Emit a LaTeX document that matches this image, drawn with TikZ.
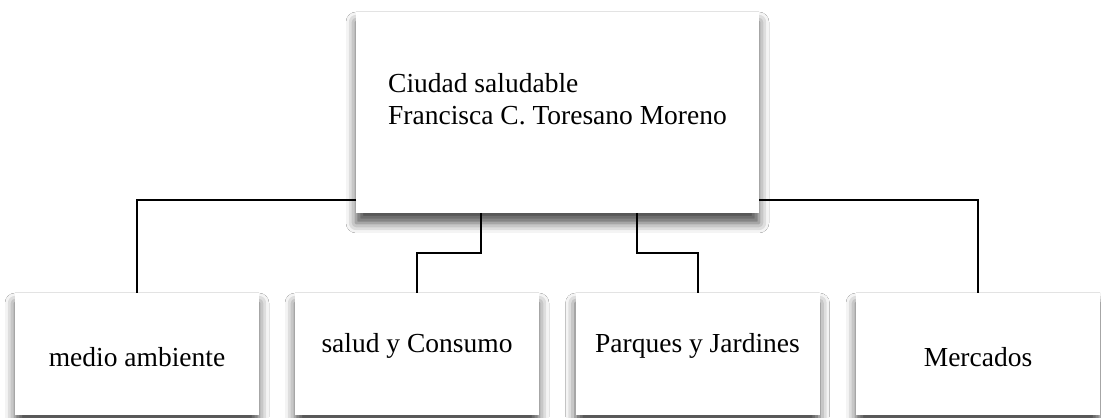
\documentclass[tikz,border=0pt]{standalone}
\usepackage{fontspec}
\setmainfont{Liberation Serif}
\usetikzlibrary{shadows.blur}
\begin{document}
\begin{tikzpicture}[x=0.5pt, y=0.5pt,
        font=\fontsize{13.75}{16}\selectfont,
        caja/.style={fill=white, inner sep=0pt, outer sep=0pt,
            blur shadow={shadow xshift=0pt, shadow yshift=-5pt,
                shadow blur radius=5pt, shadow blur extra rounding=0pt,
                shadow opacity=70}},
        hijo/.style={caja, minimum width=122pt, minimum height=61pt},
        bajo/.style={text height=13pt, text depth=0pt},
        alto/.style={text height=6pt, text depth=7pt},
        linea/.style={draw=black, line width=1pt}]
    \path[use as bounding box, fill=white] (0, 0) rectangle (1101, 417);

    \node[caja, minimum width=201.5pt, minimum height=100.5pt,
        text height=0pt, text depth=19.5pt] (ciudad) at (557.5, 304.5)
        {\begin{tabular}[t]{@{}l@{}}Ciudad saludable\\Francisca C. Toresano Moreno\end{tabular}};

    \node[hijo, bajo] (medio) at (137, 63) {medio ambiente};
    \node[hijo, alto] (salud) at (417, 63) {salud y Consumo};
    \node[hijo, alto] (parques) at (697.5, 63) {Parques y Jardines};
    \node[hijo, bajo] (mercados) at (978, 63) {Mercados};

    % conectores
    \draw[linea] (ciudad.south west) ++(0, 12.5) -| (medio.north);
    \draw[linea] (ciudad.south) ++(-77, 0) -- ++(0, -40) -| (salud.north);
    \draw[linea] (ciudad.south) ++(79, 0) -- ++(0, -40) -| (parques.north);
    \draw[linea] (ciudad.south east) ++(0, 12.5) -| (mercados.north);
\end{tikzpicture}
\end{document}
